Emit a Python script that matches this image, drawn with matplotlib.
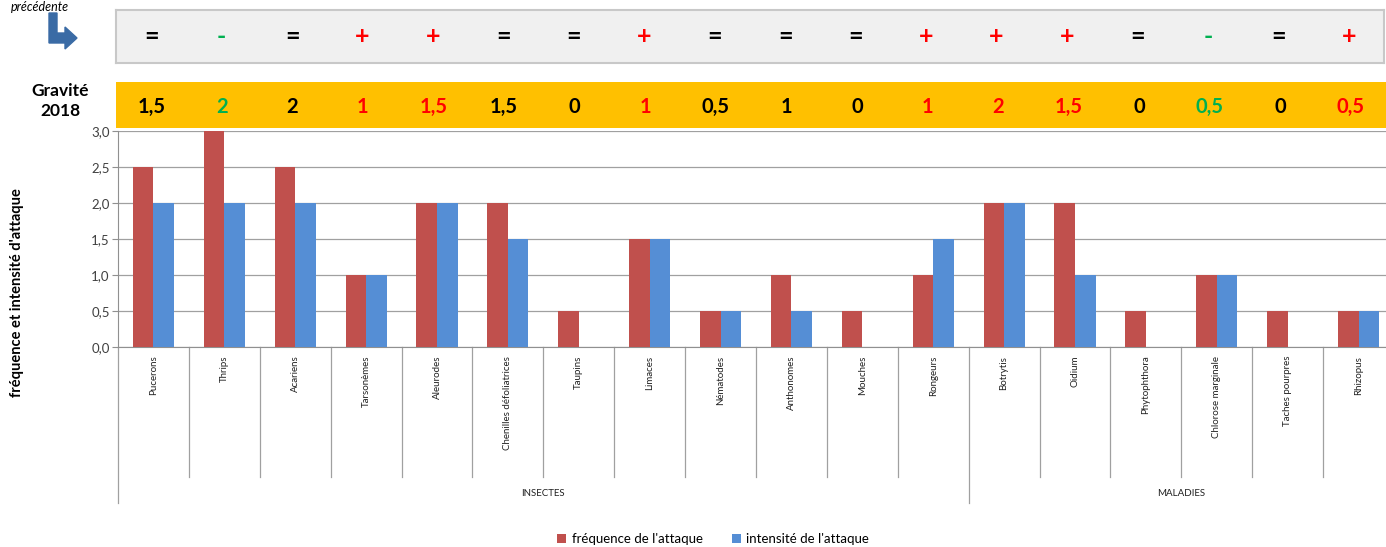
import matplotlib
matplotlib.use("Agg")
import matplotlib.pyplot as plt
from matplotlib.patches import Polygon
from matplotlib.lines import Line2D
import numpy as np

plt.rcParams['font.family'] = ['Lato', 'DejaVu Sans']

# data
categories = ["Pucerons", "Thrips", "Acariens", "Tarsonèmes", "Aleurodes",
              "Chenilles défoliatrices", "Taupins", "Limaces", "Nématodes",
              "Anthonomes", "Mouches", "Rongeurs", "Botrytis", "Oidium",
              "Phytophthora", "Chlorose marginale", "Taches pourpres", "Rhizopus"]
frequence = [2.5, 3.0, 2.5, 1.0, 2.0, 2.0, 0.5, 1.5, 0.5, 1.0, 0.5, 1.0,
             2.0, 2.0, 0.5, 1.0, 0.5, 0.5]
intensite = [2.0, 2.0, 2.0, 1.0, 2.0, 1.5, 0.0, 1.5, 0.5, 0.5, 0.0, 1.5,
             2.0, 1.0, 0.0, 1.0, 0.0, 0.5]
evolution = ["=", "-", "=", "+", "+", "=", "=", "+", "=", "=", "=", "+",
             "+", "+", "=", "-", "=", "+"]
gravite = ["1,5", "2", "2", "1", "1,5", "1,5", "0", "1", "0,5", "1", "0",
           "1", "2", "1,5", "0", "0,5", "0", "0,5"]
gravite_col = ["k", "g", "k", "r", "r", "k", "k", "r", "k", "k", "k", "r",
               "r", "r", "k", "g", "k", "r"]
groups = [("INSECTES", 0, 11), ("MALADIES", 12, 17)]

RED = "#C0504D"
BLUE = "#558ED5"
GREEN = "#00B050"
cmap = {"k": "black", "g": GREEN, "r": "#FF0000"}
sym_col = {"=": "black", "-": GREEN, "+": "#FF0000"}

W, H = 1386, 547
fig = plt.figure(figsize=(W / 100, H / 100), dpi=100)

def box(x0, y0, x1, y1):
    return [x0 / W, 1 - y1 / H, (x1 - x0) / W, (y1 - y0) / H]

# plot area runs a little past the right edge of the picture, as in the original
ax = fig.add_axes(box(118, 131, 1394, 347))
x = np.arange(len(categories))
bw = 0.29
ax.bar(x - bw / 2, frequence, bw, color=RED, label="fréquence de l'attaque", zorder=3)
ax.bar(x + bw / 2, intensite, bw, color=BLUE, label="intensité de l'attaque", zorder=3)
ax.set_xlim(-0.5, len(categories) - 0.5)
ax.set_ylim(0, 3)
yt = np.arange(0, 3.01, 0.5)
ax.set_yticks(yt)
ax.set_yticklabels([f"{v:.1f}".replace(".", ",") for v in yt],
                   fontsize=9.5, color="#404040")
ax.yaxis.grid(True, color="#A0A0A0", lw=0.9, zorder=0)
for s in ["top", "right"]:
    ax.spines[s].set_visible(False)
ax.spines["left"].set_color("#909090")
ax.spines["bottom"].set_color("#909090")
ax.tick_params(axis="y", length=4, color="#909090", pad=2)
ax.set_xticks([])

# category labels and separators under the axis
trans = ax.get_xaxis_transform()
for i, c in enumerate(categories):
    ax.text(i, -0.04, c, rotation=90, ha="center", va="top", fontsize=7,
            color="#202020", transform=trans)
for k in range(len(categories) + 1):
    xb = k - 0.5
    bottom = -0.72 if k in (0, 12, len(categories)) else -0.60
    ax.add_line(Line2D([xb, xb], [0, bottom], color="#A0A0A0", lw=0.9,
                       transform=trans, clip_on=False))
for name, a, b in groups:
    ax.text((a + b) / 2, -0.68, name, ha="center", va="center", fontsize=7,
            color="#202020", transform=trans)

ax.set_ylabel("fréquence et intensité d'attaque", fontsize=10.5, fontweight="bold")
ax.yaxis.set_label_coords(-0.074, 0.25)

# evolution row
ax_ev = fig.add_axes(box(116, 10, 1384, 63))
ax_ev.set_facecolor("#F0F0F0")
ax_ev.set_xlim(-0.5, len(categories) - 0.5)
ax_ev.set_ylim(0, 1)
for s in ax_ev.spines.values():
    s.set_color("#C8C8C8")
    s.set_linewidth(1.5)
ax_ev.tick_params(left=False, bottom=False, labelleft=False, labelbottom=False)
for i, s in enumerate(evolution):
    ax_ev.text(i, 0.5, s, ha="center", va="center", fontsize=18,
               fontweight="bold", color=sym_col[s])

# gravity row
ax_gr = fig.add_axes(box(116, 82, 1386, 128))
ax_gr.set_facecolor("#FFC000")
ax_gr.set_xlim(-0.5, len(categories) - 0.5)
ax_gr.set_ylim(0, 1)
for s in ax_gr.spines.values():
    s.set_visible(False)
ax_gr.tick_params(left=False, bottom=False, labelleft=False, labelbottom=False)
for i, (g, c) in enumerate(zip(gravite, gravite_col)):
    ax_gr.text(i, 0.45, g, ha="center", va="center", fontsize=14.5,
               fontweight="bold", color=cmap[c])

fig.text(60 / W, 1 - 101 / H, "Gravité\n2018", ha="center", va="center",
         fontsize=12.5, fontweight="bold", linespacing=1.35)
fig.text(69 / W, 1 - 1 / H, "précédente", ha="right", va="top",
         fontsize=9, style="italic")

# bent arrow
pts = [(49, 13), (57, 13), (57, 33), (65, 33), (65, 27), (77, 38),
       (65, 49), (65, 43), (49, 43)]
fig.add_artist(Polygon([(px / W, 1 - py / H) for px, py in pts], closed=True,
                       color="#3A6BA5", transform=fig.transFigure))

fig.legend(loc="center", bbox_to_anchor=(713 / W, 1 - 539 / H), ncol=2,
           frameon=False, fontsize=9.5, handlelength=0.7, handleheight=0.7,
           columnspacing=2.2, handletextpad=0.4)

fig.savefig("out.png", dpi=100)
